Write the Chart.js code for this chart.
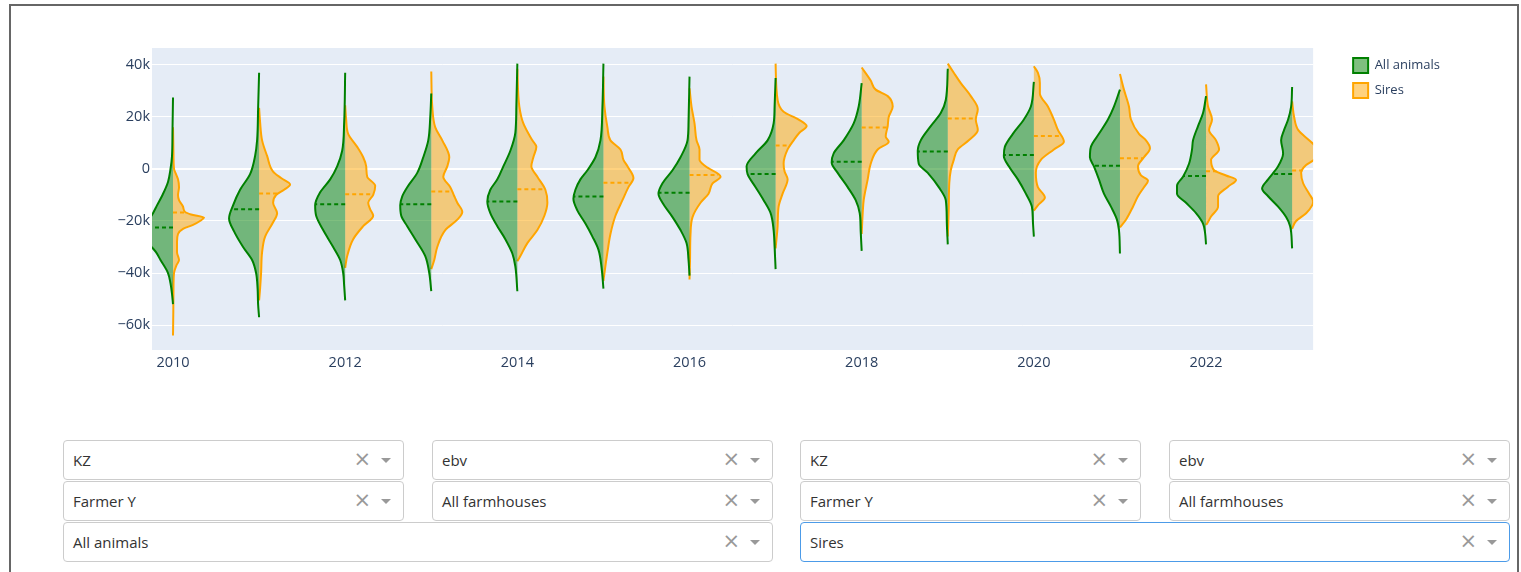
<!DOCTYPE html>
<html>
<head>
<meta charset="utf-8">
<script src="https://cdn.jsdelivr.net/npm/chart.js@4.4.1/dist/chart.umd.min.js"></script>
<style>
html,body{margin:0;padding:0;background:#fff;width:1521px;height:572px;overflow:hidden;}
#frame{position:absolute;left:9px;top:4px;width:1510px;height:640px;border:2px solid #666;box-sizing:border-box;}
#chartBox{position:absolute;left:12px;top:8px;width:1504px;height:400px;}
.dd{position:absolute;height:40px;border:1px solid #ccc;border-radius:4px;background:#fff;box-sizing:border-box;font-family:"Open Sans",sans-serif;font-size:15px;color:#333;}
.dd .val{position:absolute;left:9px;top:0;line-height:38px;}
.dd .clr{position:absolute;right:32px;top:0;line-height:37px;color:#999;font-size:21px;font-family:"DejaVu Sans",sans-serif;}
.dd .arr{position:absolute;right:12px;top:17px;width:0;height:0;border-left:5px solid transparent;border-right:5px solid transparent;border-top:5px solid #999;}
.dd.focus{border-color:#4c9be8;}
</style>
</head>
<body>
<div id="frame"></div>
<div id="chartBox"><canvas id="c"></canvas></div>

<div class="dd" style="left:63px;top:440px;width:341px"><span class="val">KZ</span><span class="clr">×</span><span class="arr"></span></div>
<div class="dd" style="left:432px;top:440px;width:341px"><span class="val">ebv</span><span class="clr">×</span><span class="arr"></span></div>
<div class="dd" style="left:800px;top:440px;width:341px"><span class="val">KZ</span><span class="clr">×</span><span class="arr"></span></div>
<div class="dd" style="left:1169px;top:440px;width:341px"><span class="val">ebv</span><span class="clr">×</span><span class="arr"></span></div>
<div class="dd" style="left:63px;top:481px;width:341px"><span class="val">Farmer Y</span><span class="clr">×</span><span class="arr"></span></div>
<div class="dd" style="left:432px;top:481px;width:341px"><span class="val">All farmhouses</span><span class="clr">×</span><span class="arr"></span></div>
<div class="dd" style="left:800px;top:481px;width:341px"><span class="val">Farmer Y</span><span class="clr">×</span><span class="arr"></span></div>
<div class="dd" style="left:1169px;top:481px;width:341px"><span class="val">All farmhouses</span><span class="clr">×</span><span class="arr"></span></div>
<div class="dd" style="left:63px;top:522px;width:710px"><span class="val">All animals</span><span class="clr">×</span><span class="arr"></span></div>
<div class="dd focus" style="left:800px;top:522px;width:710px"><span class="val">Sires</span><span class="clr">×</span><span class="arr"></span></div>

<script>
// ---------- DATA ----------
const years = [2010, 2011, 2012, 2013, 2014, 2015, 2016, 2017, 2018, 2019, 2020, 2021, 2022, 2023];
const seriesNames = ['All animals', 'Sires'];

// Violin outlines: [ebv value (thousands), relative density]
const allAnimalsShapes = [
  [[27.5,0],[15,0.5],[5,1],[0,2.5],[-5,5],[-10,10.5],[-14,16],[-17,20],[-20,25],[-23,30],[-26,28],[-29,23.5],[-32,17],[-35,12.5],[-40,5],[-44,2.5],[-48,1],[-52,0]],
  [[37,0],[23,1],[11,2],[5,4],[-2,9],[-8,19],[-14,26],[-19,30],[-24,25],[-30,16],[-35,7],[-40,3],[-46,1.5],[-52,1],[-57,0]],
  [[37,0],[18,1],[7,3],[1,8],[-4,15],[-9,25],[-14,30],[-18,29],[-23.5,22],[-30,12],[-35,5],[-40,2],[-45,1],[-50.5,0]],
  [[29,0],[20,1],[11,3],[4.5,8],[-1.5,14],[-7,24],[-10.5,29],[-14,31],[-18,30],[-22,24],[-27,16],[-33.5,6],[-40,2],[-47,0]],
  [[40.5,0],[24,1],[14,2],[7,7],[1,14],[-4,20],[-8,27],[-12.5,30],[-17,27],[-22,20],[-27,12],[-32.5,5],[-37.5,2],[-47,0]],
  [[40.5,0],[24,1],[11,3],[4.5,8],[-0.5,16],[-4,23],[-8,28],[-11.5,30],[-16,26],[-21,18],[-26,11],[-31,5],[-37.5,2],[-46,0]],
  [[35.5,0],[18,1],[11,2],[4.5,9],[-0.5,17],[-5.5,27],[-9.5,31],[-13,27],[-18.5,17],[-23.5,9],[-28.5,3],[-35,1],[-41,0]],
  [[35,0],[24,1],[17.5,2],[11,8],[6,20],[1,29],[-2,28],[-7,20],[-12,12],[-17,5],[-23.5,2],[-30,1],[-38.5,0]],
  [[33,0],[24,3],[17.5,8],[11,18],[6,28],[2.5,30],[-1.5,24],[-7,14],[-12,6],[-17,2],[-24,1],[-31.5,0]],
  [[38.5,0],[26.5,2],[21.5,7],[16.5,17],[11,27],[7,30],[2,29],[-1.5,20],[-7,9],[-12,2],[-20,1],[-29,0]],
  [[33.5,0],[24,3],[19,10],[13.5,21],[8.5,29],[5,30],[1,25],[-4,16],[-9.5,8],[-14.5,2],[-20,1],[-26,0]],
  [[30.5,0],[24,6],[19,12],[13.5,21],[8.5,29],[4.5,30],[1,26],[-4,21],[-9.5,16],[-14.5,9],[-19.5,3],[-23.5,1],[-32.5,0]],
  [[28,0],[21.5,3],[16.5,8],[11,13],[7.5,14],[2,17],[-3,23],[-6.5,29],[-9.5,29],[-13,20],[-17,10],[-21,3],[-24.5,1],[-29,0]],
  [[31.5,0],[24,1],[19,4],[15,8],[11,11],[6,9],[1,14],[-4,24],[-7.5,30],[-10.5,24],[-14.5,14],[-18.5,6],[-22,2],[-30.5,0]]
];
const siresShapes = [
  [[16,0],[5,0.5],[0,1],[-2,3],[-4,5],[-7,6],[-10,5],[-12,6],[-14.5,10],[-16.5,12],[-17.5,18],[-18.7,31],[-20,27],[-21.5,20],[-23,10],[-25,5],[-28,4],[-32,4],[-35,6],[-37,3.5],[-40,1],[-45,0.5],[-55,0.3],[-64,0]],
  [[23.5,0],[18,1],[11,3],[5,8],[-1,14],[-3.5,22],[-6,31],[-8,25],[-10,17],[-13,14],[-17,18],[-20.5,14],[-26,6],[-32,3],[-40,2],[-46,1],[-50.5,0]],
  [[24.5,0],[19,1],[13.5,3],[8.5,12],[4.5,18],[1,21],[-3,22],[-6.5,30],[-10,28],[-13,23],[-15.5,25],[-18,28],[-22,18],[-27,8],[-33.5,2],[-38,0]],
  [[37.5,0],[24,1],[16,4],[11,11],[4.5,18],[1,16],[-3,12],[-7,19],[-10.5,23],[-13,26],[-16.5,31],[-19.5,26],[-23.5,14],[-30,6],[-35,3],[-38.5,0]],
  [[38.5,0],[24,2],[17.5,6],[11,15],[8.5,19],[4.5,16],[1,14],[-3,20],[-8,28],[-13,30],[-18,27],[-23.5,20],[-28.5,10],[-33.5,3],[-35.5,0]],
  [[35.5,0],[24,1],[16,4],[11,7],[7.5,17],[3.5,20],[1,24],[-3.5,30],[-7,25],[-12,19],[-18,12],[-25,7],[-32,4],[-40,1],[-43,0]],
  [[31,0],[24,2],[17.5,5],[11,7],[7.5,10],[3.5,10],[1,16],[-3,31],[-5.5,23],[-9.5,19],[-13,11],[-18.5,3],[-25,1],[-35,0.5],[-42.5,0]],
  [[40.5,0],[26.5,2],[22,8],[19,23],[16.5,31],[14,24],[11,18],[7.5,12],[2,8],[-1,9],[-4,12],[-9.5,7],[-14.5,3],[-22,2],[-30.5,0]],
  [[39,0],[34,9],[30.5,14],[28,26],[24,31],[20,27],[16.5,26],[12.5,24],[10.5,27],[7.5,16],[2,9],[-4,6],[-12,2],[-17,1],[-25,0]],
  [[40.5,0],[37,6],[33,13],[28,23],[23,30],[19,28],[15,30],[11,21],[7.5,10],[3.5,6],[-0.5,3],[-5.5,1.5],[-15,1],[-26,0]],
  [[39.5,0],[37,4],[33,6],[29,6],[24,14],[19,20],[15,24],[10.5,30],[7.5,20],[3.5,7],[-1.5,2],[-7,4],[-11,11],[-14,4],[-16,0]],
  [[36.5,0],[30.5,4],[24,9],[19,11],[13.5,19],[11,26],[8,30],[4.5,24],[1,18],[-2.5,21],[-4.5,28],[-7,24],[-10.5,18],[-14.5,13],[-19.5,6],[-22.5,0]],
  [[32.5,0],[24,2],[19,6],[15,3],[11,10],[7.5,13],[3.5,5],[-0.5,8],[-2.5,20],[-4.2,30],[-6.8,22],[-10.5,12],[-14.5,12],[-18.3,5],[-21,1],[-21.5,0]],
  [[26,0],[20,2],[15,6],[11,17],[8,25],[5,26],[3,20],[1.5,14],[-1.5,9],[-5.5,11],[-9.5,17],[-12.5,21],[-14,20],[-17,14],[-20,4],[-23,0]]
];
// Medians (thousands) – dashed lines
const allAnimalsMedians = [-22.5, -15.5, -13.6, -13.6, -12.5, -10.6, -9.1, -1.9, 2.8, 6.7, 5.4, 1.2, -2.7, -1.9];
const siresMedians = [-16.7, -9.4, -9.7, -8.7, -7.8, -5.3, -2.3, 9.0, 15.9, 19.4, 12.7, 4.1, -0.9, -0.6];

const xTickValues = [2010, 2012, 2014, 2016, 2018, 2020, 2022];
const xTickLabels = ['2010', '2012', '2014', '2016', '2018', '2020', '2022'];
const yTickValues = [-60000, -40000, -20000, 0, 20000, 40000];
const yTickLabels = ['\u221260k', '\u221240k', '\u221220k', '0', '20k', '40k'];

// ---------- STYLE / SCALE SETTINGS ----------
const UNIT = 1000;
const WIDTH_PER_DENSITY = 1 / 86;   // density unit -> fraction of a year
const X_MIN = 2009.756, X_MAX = 2023.244;
const Y_MIN = -69600, Y_MAX = 46500;
const styles = [
  {line: '#008000', fill: 'rgba(0,128,0,0.5)', side: -1},
  {line: '#FFA500', fill: 'rgba(255,165,0,0.5)', side: 1}
];

function widthAt(shape, v) {
  for (let i = 0; i < shape.length - 1; i++) {
    const [v0, d0] = shape[i], [v1, d1] = shape[i + 1];
    if ((v <= v0 && v >= v1)) {
      const t = v0 === v1 ? 0 : (v0 - v) / (v0 - v1);
      return d0 + t * (d1 - d0);
    }
  }
  return 0;
}

const medianSets = [], violinSets = [];
[[allAnimalsShapes, allAnimalsMedians], [siresShapes, siresMedians]].forEach(([shapes, medians], s) => {
  const st = styles[s];
  years.forEach((year, i) => {
    const shape = shapes[i];
    violinSets.push({
      label: i === 0 ? seriesNames[s] : '',
      data: shape.map(([v, d]) => ({x: year + st.side * d * WIDTH_PER_DENSITY, y: v * UNIT})),
      borderColor: st.line, backgroundColor: st.fill, borderWidth: 2,
      pointRadius: 0, fill: {value: year}, cubicInterpolationMode: 'monotone',
      clip: 0, xAxisID: 'x', yAxisID: 'y'
    });
    const m = medians[i];
    medianSets.push({
      label: '',
      data: [{x: year, y: m * UNIT}, {x: year + st.side * widthAt(shape, m) * WIDTH_PER_DENSITY, y: m * UNIT}],
      borderColor: st.line, borderWidth: 2, borderDash: [4, 3], pointRadius: 0,
      fill: false, tension: 0, clip: 0, xAxisID: 'x', yAxisID: 'y'
    });
  });
});

const plotBg = {
  id: 'plotBg',
  beforeDraw(chart) {
    const {ctx, chartArea: a} = chart;
    ctx.save();
    ctx.fillStyle = '#E5ECF6';
    ctx.fillRect(a.left, a.top, a.right - a.left, a.bottom - a.top);
    ctx.restore();
  }
};

Chart.defaults.font.family = '"Open Sans", sans-serif';
Chart.defaults.color = '#2a3f5f';

new Chart(document.getElementById('c'), {
  type: 'line',
  data: {datasets: medianSets.concat(violinSets)},
  options: {
    indexAxis: 'y',
    responsive: true,
    maintainAspectRatio: false,
    animation: false,
    events: [],
    layout: {padding: {left: 0, top: 40, right: 66, bottom: 18}},
    scales: {
      x: {
        type: 'linear', position: 'bottom', min: X_MIN, max: X_MAX,
        grid: {display: false, drawTicks: false}, border: {display: false},
        afterBuildTicks: s => { s.ticks = xTickValues.map(v => ({value: v})); },
        afterFit: s => { s.height = 40; },
        ticks: {padding: 4, font: {size: 14.5}, maxRotation: 0, autoSkip: false,
                callback: v => xTickLabels[xTickValues.indexOf(v)]}
      },
      y: {
        type: 'linear', position: 'left', min: Y_MIN, max: Y_MAX,
        grid: {color: '#ffffff', lineWidth: c => (c.tick && c.tick.value === 0) ? 2 : 1, drawTicks: false},
        border: {display: false},
        afterBuildTicks: s => { s.ticks = yTickValues.map(v => ({value: v})); },
        afterFit: s => { s.width = 140; },
        ticks: {padding: 2, font: {size: 14.5}, autoSkip: false,
                callback: v => yTickLabels[yTickValues.indexOf(v)]}
      },
      yRight: {
        type: 'linear', axis: 'y', position: 'right', display: true,
        grid: {display: false}, border: {display: false}, ticks: {display: false},
        afterFit: s => { s.width = 30; }
      }
    },
    plugins: {
      legend: {
        position: 'right', align: 'start',
        labels: {boxWidth: 15, boxHeight: 15, padding: 10, font: {size: 13}, color: '#2a3f5f',
                 filter: item => item.text !== ''}
      },
      tooltip: {enabled: false}
    }
  },
  plugins: [plotBg]
});
</script>
</body>
</html>
